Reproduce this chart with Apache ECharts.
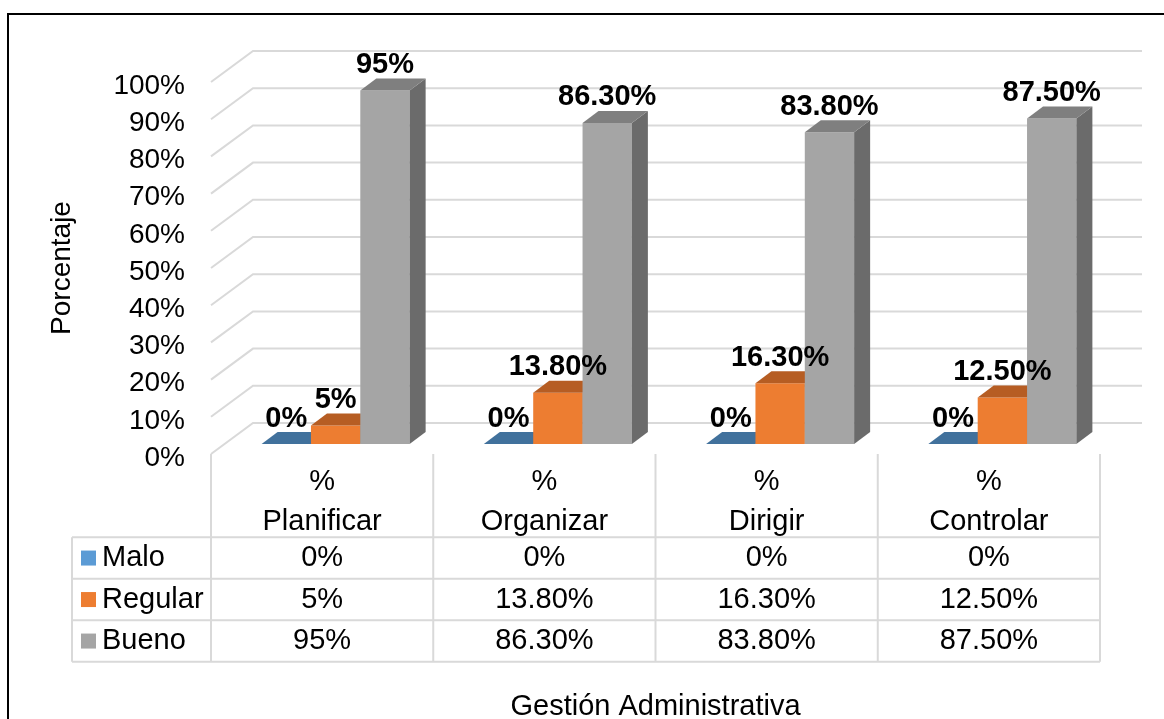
<!DOCTYPE html>
<html>
<head>
<meta charset="utf-8">
<script src="https://cdn.jsdelivr.net/npm/echarts@6/dist/echarts.min.js"></script>
<style>
  html, body { margin: 0; padding: 0; background: #fff; }
  #chart { width: 1164px; height: 719px; }
</style>
</head>
<body>
<div id="chart"></div>
<script>
const categories = ['% Planificar', '% Organizar', '% Dirigir', '% Controlar']
const seriesNames = ['Malo', 'Regular', 'Bueno']
const malo = [0, 0, 0, 0]
const regular = [5, 13.8, 16.3, 12.5]
const bueno = [95, 86.3, 83.8, 87.5]
const yTicks = [0, 10, 20, 30, 40, 50, 60, 70, 80, 90, 100]

const FONT = '"Liberation Sans", Arial, sans-serif'
const frontColors = ['#5B9BD5', '#ED7D31', '#A5A5A5']
const topColors = ['#41719C', '#B65D23', '#7F7F7F']
const sideColors = ['#3A6690', '#A9541E', '#6B6B6B']

// oblique depth of the walls and of the bars (px)
const WALL_DX = 42, WALL_DY = -31
const BAR_SHIFT_X = 13.5, BAR_SHIFT_Y = -10
const BAR_DX = 16, BAR_DY = -12

const fmt = (v) => (Number.isInteger(v) ? v + '%' : v.toFixed(2) + '%')

const chart = echarts.init(document.getElementById('chart'))

const rows = [malo, regular, bueno]

function barSeries(idx) {
  return {
    name: seriesNames[idx],
    type: 'custom',
    data: rows[idx].map((v, j) => [j, v]),
    renderItem: (params, api) => {
      const j = api.value(0)
      const v = api.value(1)
      const base = api.coord([j, 0])
      const top = api.coord([j, v])
      const cw = api.size([1, 0])[0]
      const bw = cw * 0.222
      const x0 = base[0] - 1.5 * bw + idx * bw + BAR_SHIFT_X
      const y0 = base[1] + BAR_SHIFT_Y
      const yt = top[1] + BAR_SHIFT_Y
      const h = y0 - yt
      const children = []
      if (h > 0.5) {
        children.push({ type: 'rect', shape: { x: x0, y: yt, width: bw, height: h }, style: { fill: frontColors[idx] } })
        children.push({
          type: 'polygon',
          shape: { points: [[x0 + bw, yt], [x0 + bw, y0], [x0 + bw + BAR_DX, y0 + BAR_DY], [x0 + bw + BAR_DX, yt + BAR_DY]] },
          style: { fill: sideColors[idx] }
        })
      }
      children.push({
        type: 'polygon',
        shape: { points: [[x0, yt], [x0 + bw, yt], [x0 + bw + BAR_DX, yt + BAR_DY], [x0 + BAR_DX, yt + BAR_DY]] },
        style: { fill: topColors[idx] }
      })
      children.push({
        type: 'text',
        z2: 50,
        x: x0 + bw / 2,
        y: yt + BAR_DY + 1,
        style: { text: fmt(v), font: 'bold 29px ' + FONT, fill: '#000', align: 'center', verticalAlign: 'bottom' }
      })
      return { type: 'group', children }
    }
  }
}

// table under the plot
const gridL = 211, gridR = 1100, axisY = 454
const tableTop = 537.3, rowH = 41.5, tableLeft = 72
const colW = (gridR - gridL) / categories.length
const tableBottom = tableTop + rowH * rows.length
const lineStyle = { stroke: '#D9D9D9', lineWidth: 2 }

const graphics = [
  { type: 'rect', shape: { x: 8, y: 14, width: 1200, height: 800 }, style: { fill: 'none', stroke: '#000', lineWidth: 2 }, z: -1 }
]
for (let j = 0; j <= categories.length; j++) {
  const x = gridL + j * colW
  graphics.push({ type: 'line', shape: { x1: x, y1: axisY, x2: x, y2: tableBottom }, style: lineStyle })
}
graphics.push({ type: 'line', shape: { x1: tableLeft, y1: tableTop, x2: tableLeft, y2: tableBottom }, style: lineStyle })
for (let i = 0; i <= rows.length; i++) {
  const y = tableTop + i * rowH
  graphics.push({ type: 'line', shape: { x1: tableLeft, y1: y, x2: gridR, y2: y }, style: lineStyle })
}
rows.forEach((vals, i) => {
  const cy = tableTop + (i + 0.5) * rowH
  graphics.push({ type: 'rect', shape: { x: 81, y: cy - 7.5, width: 15, height: 15 }, style: { fill: frontColors[i] } })
  graphics.push({ type: 'text', x: 102, y: cy, style: { text: seriesNames[i], font: '29px ' + FONT, fill: '#000', align: 'left', verticalAlign: 'middle' } })
  vals.forEach((v, j) => {
    graphics.push({ type: 'text', x: gridL + (j + 0.5) * colW, y: cy, style: { text: fmt(v), font: '29px ' + FONT, fill: '#000', align: 'center', verticalAlign: 'middle' } })
  })
})
graphics.push({ type: 'text', x: (gridL + gridR) / 2, y: 707, style: { text: 'Gestión Administrativa', font: '29px ' + FONT, fill: '#000', align: 'center', verticalAlign: 'middle' } })

const option = {
  backgroundColor: '#fff',
  animation: false,
  grid: { left: gridL, right: 1164 - gridR, top: 82, bottom: 719 - axisY },
  xAxis: {
    type: 'category',
    data: categories,
    axisLine: { show: false },
    axisTick: { show: false },
    axisLabel: {
      interval: 0,
      margin: 8,
      color: '#000',
      fontFamily: FONT,
      fontSize: 29,
      lineHeight: 40,
      formatter: (v) => v.replace(' ', '\n')
    }
  },
  yAxis: {
    type: 'value',
    min: 0,
    max: 100,
    interval: 10,
    name: 'Porcentaje',
    nameLocation: 'middle',
    nameGap: 135,
    nameTextStyle: { color: '#000', fontFamily: FONT, fontSize: 28 },
    axisLine: { show: false },
    axisTick: { show: false },
    splitLine: { show: false },
    axisLabel: {
      margin: 26,
      formatter: '{t|{value}%}',
      rich: { t: { color: '#000', fontFamily: FONT, fontSize: 28, padding: [8, 0, 0, 0] } }
    }
  },
  series: [
    {
      type: 'custom',
      silent: true,
      z: 1,
      data: yTicks.map((t) => [0, t]),
      renderItem: (params, api) => {
        const cs = params.coordSys
        const y = api.coord([0, api.value(1)])[1]
        return {
          type: 'polyline',
          shape: { points: [[cs.x, y], [cs.x + WALL_DX, y + WALL_DY], [cs.x + cs.width + WALL_DX, y + WALL_DY]] },
          style: { stroke: '#D9D9D9', lineWidth: 2, fill: null }
        }
      }
    },
    barSeries(0),
    barSeries(1),
    barSeries(2)
  ],
  graphic: graphics
}

chart.setOption(option)
</script>
</body>
</html>
